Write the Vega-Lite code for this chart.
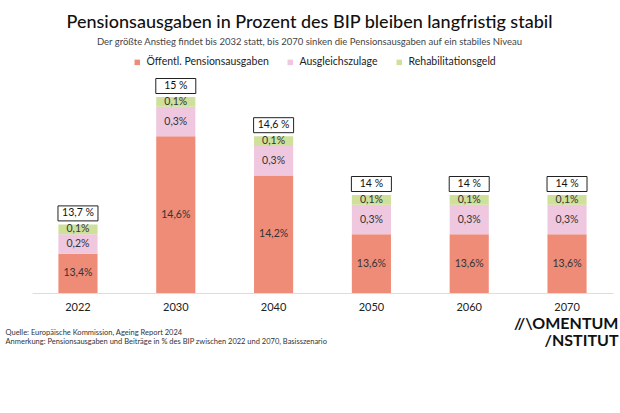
{
  "$schema": "https://vega.github.io/schema/vega-lite/v6.json",
  "width": 581,
  "height": 196,
  "autosize": {"type": "none"},
  "padding": {"left": 32, "top": 97, "right": 7, "bottom": 120},
  "background": "white",
  "config": {
    "font": "Lato",
    "view": {"stroke": null},
    "locale": {"number": {"decimal": ",", "thousands": ".", "grouping": [3], "currency": ["", " €"]}}
  },
  "title": {
    "text": "Pensionsausgaben in Prozent des BIP bleiben langfristig stabil",
    "subtitle": "Der größte Anstieg findet bis 2032 statt, bis 2070 sinken die Pensionsausgaben auf ein stabiles Niveau",
    "anchor": "middle",
    "frame": "group",
    "dx": -13,
    "offset": 11,
    "fontSize": 18,
    "fontWeight": 500,
    "color": "#111111",
    "subtitleFontSize": 9.5,
    "subtitleColor": "#444444",
    "subtitlePadding": 5
  },
  "datasets": {
    "anteile": [
      {"jahr": "2022", "kategorie": "Öffentl. Pensionsausgaben", "rang": 1, "wert": 0.134},
      {"jahr": "2022", "kategorie": "Ausgleichszulage", "rang": 2, "wert": 0.002},
      {"jahr": "2022", "kategorie": "Rehabilitationsgeld", "rang": 3, "wert": 0.001},
      {"jahr": "2030", "kategorie": "Öffentl. Pensionsausgaben", "rang": 1, "wert": 0.146},
      {"jahr": "2030", "kategorie": "Ausgleichszulage", "rang": 2, "wert": 0.003},
      {"jahr": "2030", "kategorie": "Rehabilitationsgeld", "rang": 3, "wert": 0.001},
      {"jahr": "2040", "kategorie": "Öffentl. Pensionsausgaben", "rang": 1, "wert": 0.142},
      {"jahr": "2040", "kategorie": "Ausgleichszulage", "rang": 2, "wert": 0.003},
      {"jahr": "2040", "kategorie": "Rehabilitationsgeld", "rang": 3, "wert": 0.001},
      {"jahr": "2050", "kategorie": "Öffentl. Pensionsausgaben", "rang": 1, "wert": 0.136},
      {"jahr": "2050", "kategorie": "Ausgleichszulage", "rang": 2, "wert": 0.003},
      {"jahr": "2050", "kategorie": "Rehabilitationsgeld", "rang": 3, "wert": 0.001},
      {"jahr": "2060", "kategorie": "Öffentl. Pensionsausgaben", "rang": 1, "wert": 0.136},
      {"jahr": "2060", "kategorie": "Ausgleichszulage", "rang": 2, "wert": 0.003},
      {"jahr": "2060", "kategorie": "Rehabilitationsgeld", "rang": 3, "wert": 0.001},
      {"jahr": "2070", "kategorie": "Öffentl. Pensionsausgaben", "rang": 1, "wert": 0.136},
      {"jahr": "2070", "kategorie": "Ausgleichszulage", "rang": 2, "wert": 0.003},
      {"jahr": "2070", "kategorie": "Rehabilitationsgeld", "rang": 3, "wert": 0.001}
    ],
    "gesamt": [
      {"jahr": "2022", "summe": 0.137, "beschriftung": "13,7 %"},
      {"jahr": "2030", "summe": 0.15, "beschriftung": "15 %"},
      {"jahr": "2040", "summe": 0.146, "beschriftung": "14,6 %"},
      {"jahr": "2050", "summe": 0.14, "beschriftung": "14 %"},
      {"jahr": "2060", "summe": 0.14, "beschriftung": "14 %"},
      {"jahr": "2070", "summe": 0.14, "beschriftung": "14 %"}
    ]
  },
  "layer": [
    {
      "layer": [
        {
          "data": {"name": "anteile"},
          "mark": {"type": "bar"},
          "encoding": {
            "x": {
              "field": "jahr",
              "type": "ordinal",
              "scale": {"paddingInner": 0.6, "paddingOuter": 0.27},
              "axis": {
                "title": ["Quelle: Europäische Kommission, Ageing Report 2024", "Anmerkung: Pensionsausgaben und Beiträge in % des BIP zwischen 2022 und 2070, Basisszenario"],
                "titleX": -27,
                "titleY": 35,
                "titleAlign": "left",
                "titleAnchor": "start",
                "titleBaseline": "top",
                "titleFontSize": 7.5,
                "titleFontWeight": "normal",
                "titleColor": "#333333",
                "titleLineHeight": 9.5,
                "labelAngle": 0,
                "labelFontSize": 11,
                "labelColor": "#222222",
                "labelPadding": 8,
                "ticks": false,
                "domainColor": "#dddddd",
                "domainWidth": 1
              }
            },
            "y": {
              "field": "wert",
              "type": "quantitative",
              "stack": "zero",
              "scale": {"domain": [0.13, 0.15], "clamp": true, "nice": false, "zero": false},
              "axis": {
                "orient": "right",
                "domain": false,
                "ticks": false,
                "labels": false,
                "grid": false,
                "title": ["//\\OMENTUM", "/NSTITUT"],
                "titleAngle": 0,
                "titleAlign": "right",
                "titleAnchor": "start",
                "titleBaseline": "top",
                "titleX": 5,
                "titleY": 218,
                "titleFontSize": 16,
                "titleFontWeight": "bold",
                "titleColor": "#111111",
                "titleLineHeight": 17.5
              }
            },
            "color": {
              "field": "kategorie",
              "type": "nominal",
              "scale": {
                "domain": ["Öffentl. Pensionsausgaben", "Ausgleichszulage", "Rehabilitationsgeld"],
                "range": ["#ee8c78", "#efc7df", "#cfe09a"]
              },
              "legend": {
                "orient": "none",
                "legendX": 100,
                "legendY": -40,
                "direction": "horizontal",
                "title": null,
                "padding": 0,
                "symbolType": "square",
                "symbolSize": 30,
                "symbolStrokeWidth": 0,
                "labelFontSize": 10.5,
                "labelColor": "#222222",
                "labelOffset": 4,
                "columnPadding": 16
              }
            },
            "order": {"field": "rang", "type": "quantitative"}
          }
        },
        {
          "data": {"name": "anteile"},
          "mark": {"type": "text", "fontSize": 10.5, "color": "#333333"},
          "encoding": {
            "x": {"field": "jahr", "type": "ordinal"},
            "y": {"field": "wert", "type": "quantitative", "stack": "zero", "bandPosition": 0.5},
            "detail": {"field": "kategorie"},
            "order": {"field": "rang", "type": "quantitative"},
            "text": {
              "condition": {"test": "datum.rang === 1", "value": ""},
              "field": "wert",
              "type": "quantitative",
              "format": ".1%"
            }
          }
        },
        {
          "data": {"name": "gesamt"},
          "mark": {
            "type": "point",
            "shape": "M-1,-0.375H1V0.375H-1Z",
            "size": 1600,
            "filled": true,
            "fill": "white",
            "stroke": "#222222",
            "strokeWidth": 1,
            "opacity": 1,
            "yOffset": -11
          },
          "encoding": {
            "x": {"field": "jahr", "type": "ordinal"},
            "y": {"field": "summe", "type": "quantitative"}
          }
        },
        {
          "data": {"name": "gesamt"},
          "mark": {"type": "text", "fontSize": 10.5, "color": "#111111", "yOffset": -11},
          "encoding": {
            "x": {"field": "jahr", "type": "ordinal"},
            "y": {"field": "summe", "type": "quantitative"},
            "text": {"field": "beschriftung"}
          }
        }
      ]
    },
    {
      "data": {"name": "anteile"},
      "transform": [{"filter": "datum.rang === 1"}],
      "mark": {"type": "text", "fontSize": 10.5, "color": "#333333"},
      "encoding": {
        "x": {"field": "jahr", "type": "ordinal"},
        "y": {
          "field": "wert",
          "type": "quantitative",
          "scale": {"domain": [0.13, 0.17], "nice": false, "zero": false},
          "axis": null
        },
        "text": {"field": "wert", "type": "quantitative", "format": ".1%"}
      }
    }
  ],
  "resolve": {"scale": {"y": "independent"}}
}
